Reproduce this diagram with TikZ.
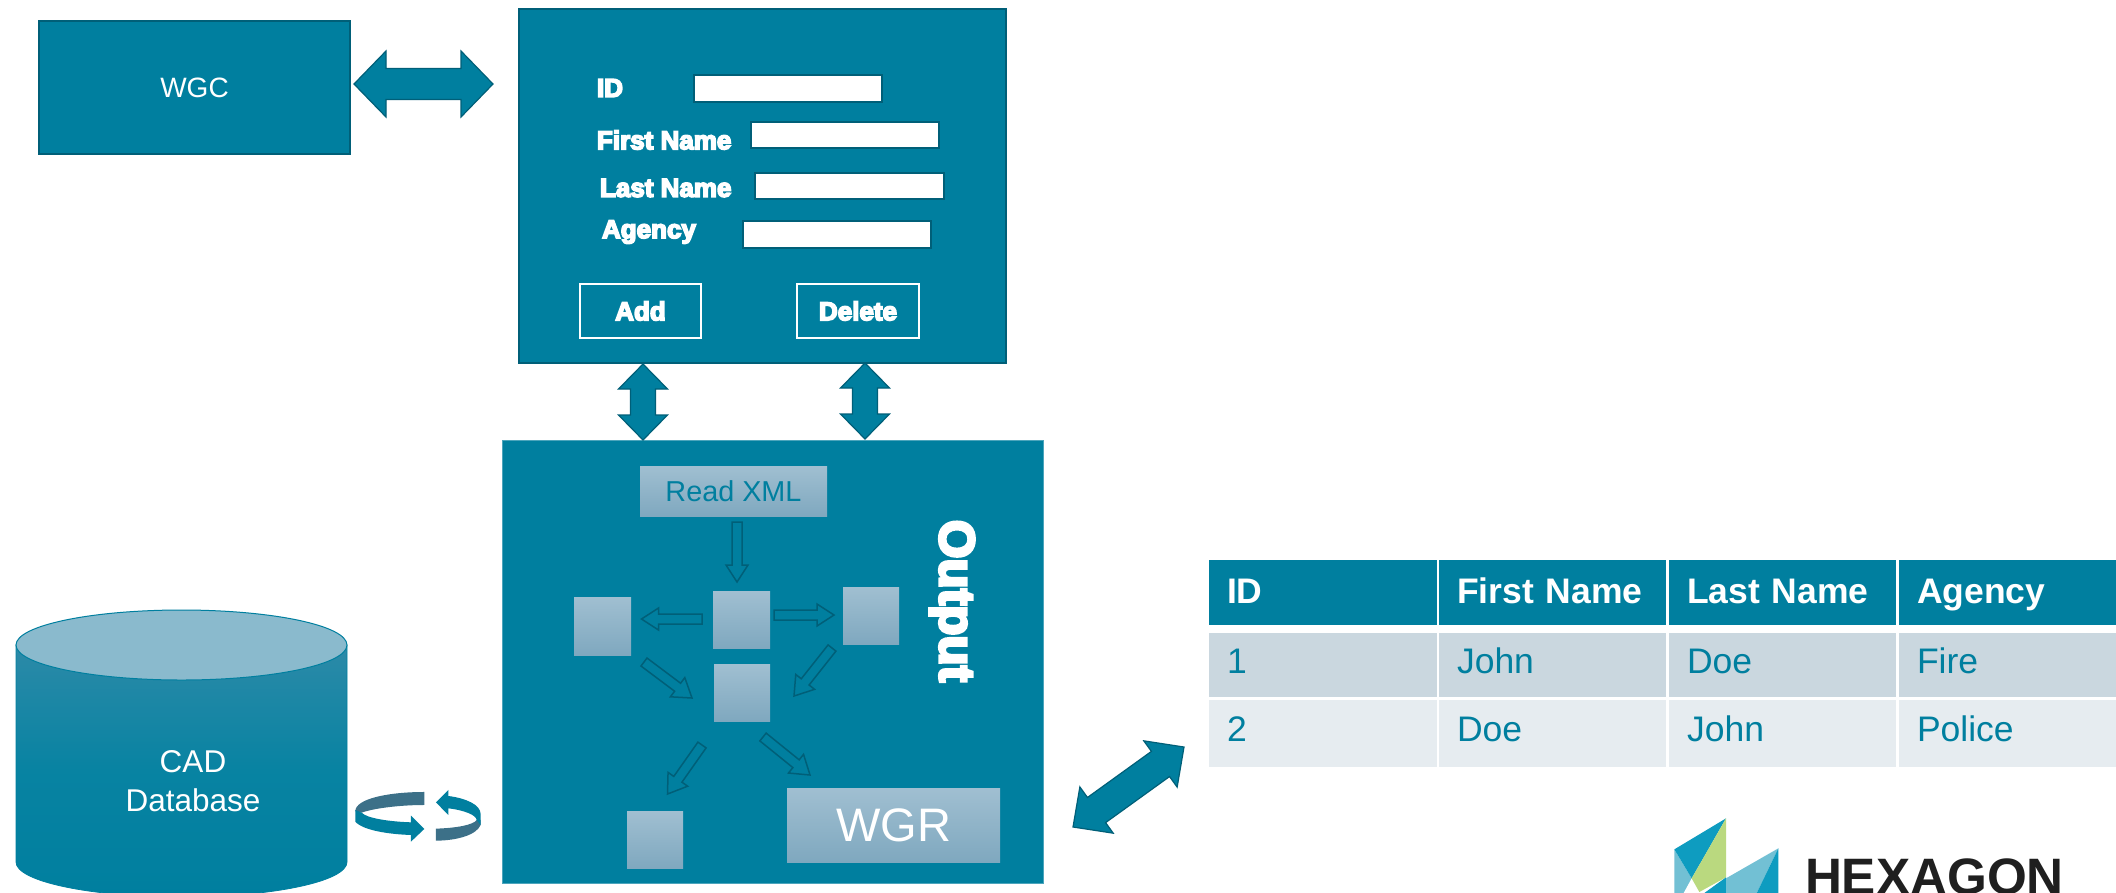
\documentclass[tikz,border=0pt]{standalone}
\usepackage{fontspec}
\setmainfont{Liberation Sans}
\newfontfamily\fatfont[BoldFeatures={FakeBold=6}]{Liberation Sans}
\usetikzlibrary{calc}
\definecolor{teal}{HTML}{007F9F}
\definecolor{tealdark}{HTML}{005F78}
\definecolor{rowa}{HTML}{CAD7DF}
\definecolor{rowb}{HTML}{E6ECF0}
\definecolor{ribbon}{HTML}{3C7088}
\definecolor{stepTop}{HTML}{A0BFD1}
\definecolor{stepBot}{HTML}{7FA8BF}
\definecolor{dbtop}{HTML}{8ABACD}
\definecolor{dbhigh}{HTML}{2C8AA8}
\definecolor{logoblue}{HTML}{0E9CC0}
\definecolor{logolight}{HTML}{72C0D4}
\definecolor{logogreen}{HTML}{BAD97F}
\newcommand\fsz[1]{\fontsize{#1}{#1}\selectfont}
% name, style, x1, y1, x2, y2, text
\newcommand\bx[7]{\node[#2,minimum width={#5-#3},minimum height={#6-#4}] (#1) at ({(#3+#5)/2},{(#4+#6)/2}) {#7};}
% style, A, B, shaft half, head half, head length
\newcommand\dblarrow[6]{%
  \coordinate (p1) at ($(#2)!#6!(#3)$);
  \coordinate (p2) at ($(#3)!#6!(#2)$);
  \draw[#1] (#2) -- ($(p1)!#5!90:(#3)$) -- ($(p1)!#4!90:(#3)$) -- ($(p2)!#4!90:(#3)$) -- ($(p2)!#5!90:(#3)$) -- (#3)
    -- ($(p2)!#5!-90:(#3)$) -- ($(p2)!#4!-90:(#3)$) -- ($(p1)!#4!-90:(#3)$) -- ($(p1)!#5!-90:(#3)$) -- cycle;}
\newcommand\sglarrow[6]{%
  \coordinate (p2) at ($(#3)!#6!(#2)$);
  \draw[#1] ($(#2)!#4!90:(#3)$) -- ($(p2)!#4!90:(#3)$) -- ($(p2)!#5!90:(#3)$) -- (#3)
    -- ($(p2)!#5!-90:(#3)$) -- ($(p2)!#4!-90:(#3)$) -- ($(#2)!#4!-90:(#3)$) -- cycle;}
\tikzset{
  base/.style={inner sep=0pt,outer sep=0pt},
  panel/.style={base,fill=teal,draw=tealdark,line width=1.5pt,text=white},
  outpanel/.style={base,fill=teal,draw=teal!70!white,line width=.8pt},
  entry/.style={base,fill=white,draw=tealdark,line width=1.5pt},
  btn/.style={base,draw=white,line width=1.4pt,text=white,font=\fatfont\bfseries\fsz{26}},
  flab/.style={base,anchor=west,text=white,font=\fatfont\bfseries\fsz{26}},
  step box/.style={base,top color=stepTop,bottom color=stepBot},
  blockarrow/.style={fill=teal,draw=tealdark,line width=1.2pt,line join=miter},
  thinarrow/.style={fill=teal,draw=tealdark,line width=1.5pt,line join=miter},
  headcell/.style={base,fill=teal,text=white,font=\bfseries\fsz{35.5},text height=28pt,text depth=7pt,align=left},
  rowacell/.style={base,fill=rowa,text=teal,font=\fsz{35.5},text height=26pt,text depth=10pt,align=left},
  rowbcell/.style={base,fill=rowb,text=teal,font=\fsz{35.5},text height=26pt,text depth=10pt,align=left},
}
\newcommand\cell[7]{\node[#2,minimum width={#5-#3},minimum height={#6-#4},text width={#5-#3-36},inner xsep=18pt] (#1) at ({(#3+#5)/2},{(#4+#6)/2}) {#7};}
\begin{document}
\begin{tikzpicture}[x=1pt,y=-1pt]
\clip (0,0) rectangle (2116,892);
\fill[white] (0,0) rectangle (2116,892);

% WGC and form
\bx{wgc}{panel,font=\fsz{28}}{39}{21}{350}{154}{WGC}
\bx{form}{panel}{519}{9}{1006}{363}{}
\bx{eid}{entry}{694}{75}{882}{102}{}
\bx{efirst}{entry}{751}{122}{939}{148}{}
\bx{elast}{entry}{755}{173}{944}{199}{}
\bx{eagency}{entry}{743}{221}{931}{248}{}
\node[flab] (lid) at (597,88) {ID};
\node[flab] (lfirst) at (597,140) {First Name};
\node[flab] (llast) at (600,188) {Last Name};
\node[flab] (lagency) at (602,232) {Agency};
\bx{add}{btn}{580}{284}{701}{338}{Add}
\bx{del}{btn}{797}{284}{919}{338}{Delete}

% Output panel
\bx{output}{outpanel}{502}{440}{1043}{883}{}
\bx{readxml}{step box,text=teal,font=\fsz{28.8}}{640}{466}{827}{516}{Read XML}
\bx{sleft}{step box}{574}{597}{631}{655}{}
\bx{scenter}{step box}{713}{591}{770}{648}{}
\bx{sright}{step box}{843}{587}{899}{644}{}
\bx{smid}{step box}{714}{664}{770}{721}{}
\bx{sbottom}{step box}{627}{811}{683}{868}{}
\bx{wgr}{step box,text=white,font=\fsz{47}}{787}{788}{1000}{862}{WGR}
\node[base,rotate=-90,text=white,font=\fatfont\bfseries\fsz{49.5}] (outlabel) at (952,601) {Output};

% inner arrows
\coordinate (i1a) at ($(readxml.south)+(3.5,6)$);
\coordinate (i1b) at ($(scenter.north)+(-4.5,-9)$);
\sglarrow{thinarrow}{i1a}{i1b}{5pt}{11pt}{17pt}
\coordinate (i2a) at ($(scenter.west)+(-11,-0.5)$);
\coordinate (i2b) at ($(sleft.east)+(10.5,-7)$);
\sglarrow{thinarrow}{i2a}{i2b}{5pt}{11pt}{17pt}
\coordinate (i3a) at ($(scenter.east)+(4,-4.5)$);
\coordinate (i3b) at ($(sright.west)+(-9,-0.5)$);
\sglarrow{thinarrow}{i3a}{i3b}{5pt}{11pt}{17pt}
\coordinate (i4a) at ($(sleft.south)+(41.5,7)$);
\coordinate (i4b) at ($(smid.west)+(-22,5.5)$);
\sglarrow{thinarrow}{i4a}{i4b}{5pt}{12pt}{18pt}
\coordinate (i5a) at ($(sright.south)+(-39,4)$);
\coordinate (i5b) at ($(smid.east)+(24,3.5)$);
\sglarrow{thinarrow}{i5a}{i5b}{5pt}{12pt}{18pt}
\coordinate (i6a) at ($(smid.south)+(-40,24)$);
\coordinate (i6b) at ($(sbottom.north)+(12.5,-17)$);
\sglarrow{thinarrow}{i6a}{i6b}{5pt}{12pt}{18pt}
\coordinate (i7a) at ($(smid.south)+(21,16)$);
\coordinate (i7b) at ($(wgr.north)+(-83.5,-13)$);
\sglarrow{thinarrow}{i7a}{i7b}{5pt}{12pt}{18pt}

% block arrows
\coordinate (a1) at ($(wgc.east)+(4,-3.5)$);
\coordinate (a2) at ($(form.west)+(-26,-102)$);
\dblarrow{blockarrow}{a1}{a2}{15.5pt}{33pt}{32pt}
\coordinate (a3) at ($(form.south west)+(124,1)$);
\coordinate (a4) at ($(output.north west)+(141,0)$);
\dblarrow{blockarrow}{a3}{a4}{12.5pt}{24.5pt}{25pt}
\coordinate (a5) at ($(form.south west)+(346,0)$);
\coordinate (a6) at ($(output.north west)+(363,-1)$);
\dblarrow{blockarrow}{a5}{a6}{12.5pt}{24.5pt}{25pt}

% table
\cell{h1}{headcell}{1209}{560}{1437}{625}{ID}
\cell{h2}{headcell}{1439}{560}{1666}{625}{First Name}
\cell{h3}{headcell}{1669}{560}{1896}{625}{Last Name}
\cell{h4}{headcell}{1899}{560}{2116}{625}{Agency}
\cell{a1c}{rowacell}{1209}{633}{1437}{697}{1}
\cell{a2c}{rowacell}{1439}{633}{1666}{697}{John}
\cell{a3c}{rowacell}{1669}{633}{1896}{697}{Doe}
\cell{a4c}{rowacell}{1899}{633}{2116}{697}{Fire}
\cell{b1c}{rowbcell}{1209}{700}{1437}{767}{2}
\cell{b2c}{rowbcell}{1439}{700}{1666}{767}{Doe}
\cell{b3c}{rowbcell}{1669}{700}{1896}{767}{John}
\cell{b4c}{rowbcell}{1899}{700}{2116}{767}{Police}

\coordinate (a7) at ($(output.south east)+(30,-56)$);
\coordinate (a8) at ($(b1c.west)+(-25,13.5)$);
\dblarrow{blockarrow}{a7}{a8}{15.5pt}{28.5pt}{29pt}

% database
\path[top color=dbhigh,bottom color=teal,middle color=teal!97!white,draw=teal,line width=.8pt]
  (16,645) -- (16,862) arc[start angle=180,end angle=360,x radius=165.5pt,y radius=35pt] -- (347,645) -- cycle;
\draw[fill=dbtop,draw=teal,line width=1pt] (181.5,645) ellipse[x radius=165.5pt,y radius=35pt];
\node[base,text=white,align=center,font=\fsz{31.5}] (cad) at (193,781) {CAD\\[7.5pt]Database};

% rotate arrows
\begin{scope}[shift={(0,590)},x=.3333pt,y=-.3333pt]
  \fill[ribbon] (1273,606) .. controls (1170,606) and (1066,625) .. (1066,664) -- (1085,668) .. controls (1120,655) and (1200,645) .. (1273,645) -- cycle;
  \fill[teal] (1066,660) -- (1066,695) .. controls (1090,722) and (1170,733) .. (1233,735) -- (1233,755) -- (1273,717) -- (1233,677) -- (1233,697) .. controls (1170,695) and (1100,685) .. (1085,668) -- cycle;
  \fill[ribbon] (1308,716) .. controls (1370,714) and (1420,705) .. (1430,690) -- (1442,690) -- (1442,705) .. controls (1430,735) and (1370,752) .. (1308,752) -- cycle;
  \fill[teal] (1308,637) -- (1345,600) -- (1345,618) .. controls (1400,625) and (1442,645) .. (1442,672) -- (1442,705) -- (1430,690) .. controls (1430,675) and (1390,660) .. (1345,655) -- (1345,675) -- cycle;
\end{scope}

% logo
\begin{scope}[shift={(1640,790)},x=.3333pt,y=-.3333pt]
  \fill[logolight] (103,178) -- (155,265) -- (178,320) -- (103,320) -- cycle;
  \fill[white] (155,265) -- (125,320) -- (185,320) -- cycle;
  \fill[logoblue] (103,178) -- (258,85) -- (155,265) -- cycle;
  \fill[logogreen] (258,85) -- (258,262) -- (178,306) -- (155,265) -- cycle;
  \fill[logoblue] (178,320) -- (258,262) -- (258,320) -- cycle;
  \fill[logolight] (258,265) -- (415,175) -- (345,320) -- (258,320) -- cycle;
  \fill[logoblue] (415,175) -- (415,320) -- (345,320) -- cycle;
\end{scope}
\node[base,anchor=base west,text=black!88,font=\bfseries\fsz{51.2}] (logo) at (1805,894) {HEXAGON};
\end{tikzpicture}
\end{document}
